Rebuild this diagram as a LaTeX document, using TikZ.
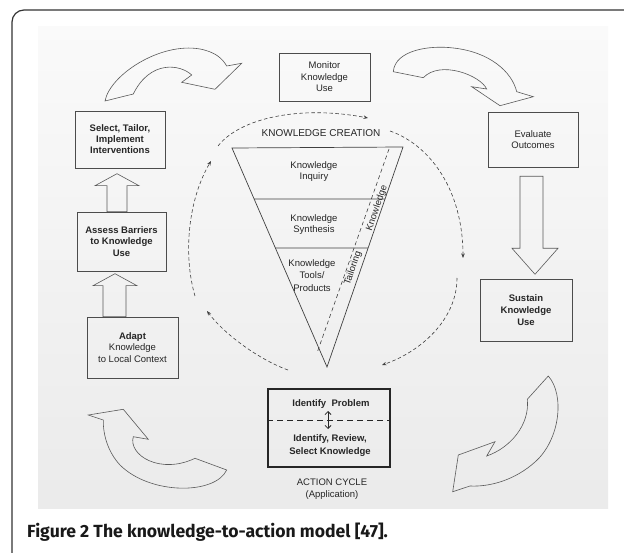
\documentclass[tikz,border=0pt]{standalone}
\usepackage{fontspec}
\setmainfont{Liberation Sans}
\newfontfamily\capfont{Fira Sans}
\usetikzlibrary{arrows.meta,calc}
\begin{document}
\begin{tikzpicture}[x=1pt,y=-1pt,
  txt/.style={font=\fontsize{9.5}{11.5}\selectfont},
  box/.style={draw=black!70,line width=0.6pt,align=center,inner sep=0pt,text=black!85,txt},
  lbl/.style={align=center,inner sep=0pt,text=black!85,txt},
  blk/.style={draw=black!65,line width=0.6pt,line join=miter},
  fun/.style={draw=black!75,line width=0.7pt},
  circ/.style={draw=black!75,line width=0.6pt,dash pattern=on 3.5pt off 2.5pt,-{Stealth[length=4.5pt,width=3.5pt]}}
]
\useasboundingbox (0,0) rectangle (624,553);
% photo background
\shade[top color=gray!4,bottom color=gray!16] (38,27) rectangle (608,508);
% frame
\draw[line width=1.2pt,black!80,rounded corners=12pt] (12,553) -- (12,10) -- (624,10);

% boxes
\node[box,minimum width=91pt,minimum height=48pt] (monitor) at (324.5,77) {Monitor\\Knowledge\\Use};
\node[box,minimum width=90pt,minimum height=57pt,font=\fontsize{9.5}{11}\selectfont\bfseries] (select) at (120,139.5) {Select, Tailor,\\Implement\\Interventions};
\node[box,minimum width=90pt,minimum height=55pt] (evaluate) at (533,139.5) {Evaluate\\Outcomes};
\node[box,minimum width=89pt,minimum height=59pt,font=\fontsize{9.5}{11.5}\selectfont\bfseries] (assess) at (121.5,241.5) {Assess Barriers\\to Knowledge\\Use};
\node[box,minimum width=91pt,minimum height=61pt] (adapt) at (132.5,347.5) {\textbf{Adapt}\\Knowledge\\to Local Context};
\node[box,minimum width=92pt,minimum height=62pt,font=\fontsize{9.5}{12}\selectfont\bfseries] (sustain) at (526,310) {Sustain\\Knowledge\\Use};
\node[draw=black!85,line width=1.1pt,minimum width=122pt,minimum height=78pt,inner sep=0pt] (action) at (329,428) {};
\node[lbl,font=\fontsize{9.5}{11.5}\selectfont\bfseries] (ip) at (331,404) {Identify\ \ Problem};
\node[lbl,font=\fontsize{9.5}{12.5}\selectfont\bfseries] (irs) at (330,445.5) {Identify, Review,\\Select Knowledge};
\draw[black!85,line width=1pt,dash pattern=on 6pt off 4pt] ($(action.west)+(0,-8)$) -- ($(action.east)+(0,-8)$);
\draw[black!85,line width=0.8pt,{Straight Barb[length=3pt,width=6pt]}-{Straight Barb[length=3pt,width=6pt]}] ($(action.center)+(-1,-17)$) -- ($(action.center)+(-1,1)$);
\node[lbl,font=\fontsize{9.5}{12}\selectfont] (ac) at (332,489) {ACTION CYCLE\\(Application)};

% straight block arrows
\draw[blk] ($(evaluate.south)+(-13,9)$) -- ++(23,0) -- ++(0,72) -- ++(15,0) -- ++(-23,26) -- ++(-23,-26) -- ++(8,0) -- cycle;
\draw[blk] ($(assess.north)+(-14.5,0)$) -- ++(0,-26) -- ++(-12,0) -- ++(22,-12) -- ++(22,12) -- ++(-12,0) -- ++(0,26) -- cycle;
\draw[blk] ($(adapt.north)+(-29.5,0)$) -- ++(0,-31) -- ++(-10,0) -- ++(22,-12) -- ++(22,12) -- ++(-11,0) -- ++(0,31) -- cycle;

% curved block arrows
\draw[blk] (105,101) .. controls (110,75) and (160,42) .. (200,49) .. controls (215,52) and (222,58) .. (226.7,66) -- (241.7,63.3) -- (215,89.3) -- (181.7,82.3) -- (191.7,75) .. controls (180,64) and (150,60) .. (133.3,94) -- cycle;
\draw[blk] (393.3,71.7) .. controls (395,50) and (430,45) .. (453.3,48) .. controls (490,52) and (512,72) .. (516.7,91.7) -- (533.3,96.7) -- (500,105.7) -- (471.7,86.7) -- (486.7,89) .. controls (480,75) and (440,60) .. (423.3,77.7) -- cycle;
\draw[blk] (88.3,415) -- (123.3,409.3) -- (148.3,439.3) -- (133.3,436.7) .. controls (128,455) and (160,475) .. (195,458.3) -- (226.7,470) .. controls (215,495) and (150,495) .. (120,465) .. controls (108,452) and (103,435) .. (103.3,420) -- cycle;
\draw[blk] (548.3,376) .. controls (565,395) and (560,440) .. (535,462) .. controls (515,480) and (490,487) .. (470,486) -- (452.7,491.7) -- (458.3,455) -- (495,441.7) -- (486.7,456) .. controls (510,448) and (530,425) .. (527.3,399.3) -- cycle;

% funnel
\coordinate (ftl) at (232,148);
\coordinate (ftr) at (403,147);
\coordinate (fap) at (327,367);
\draw[fun] (ftl) -- (ftr) -- (fap) -- cycle;
\draw[fun] ($(ftl)!0.233!(fap)$) -- ($(ftr)!0.236!(fap)$);
\draw[fun] ($(ftl)!0.457!(fap)$) -- ($(ftr)!0.459!(fap)$);
\coordinate (dtop) at (389,149);
\coordinate (dbot) at (317,353);
\draw[black!75,line width=0.6pt,dash pattern=on 4pt off 3pt] (dtop) -- (dbot);
\node[lbl,font=\fontsize{10}{12}\selectfont] (kc) at (321,133) {KNOWLEDGE CREATION};
\node[lbl] (ki) at (314,171.5) {Knowledge\\Inquiry};
\node[lbl] (ks) at (314,224.5) {Knowledge\\Synthesis};
\node[lbl,font=\fontsize{9.5}{12.5}\selectfont] (kt) at (312,275.5) {Knowledge\\Tools/\\Products};
\node[lbl,rotate=71] (rk) at (377,208) {Knowledge};
\node[lbl,rotate=71] (rt) at (353,268) {Tailoring};

% dashed cycle arrows
\coordinate (a1s) at (218,146); \coordinate (a1e) at (368,118);
\coordinate (a2s) at (390,131); \coordinate (a2e) at (463,258);
\coordinate (a3s) at (457,278); \coordinate (a3e) at (382,365);
\coordinate (a4s) at (288,370); \coordinate (a4e) at (207,311);
\coordinate (a5s) at (195,296); \coordinate (a5e) at (211,161);
\draw[circ] (a1s) .. controls (240,118) and (300,105) .. (a1e);
\draw[circ] (a2s) .. controls (430,145) and (463,190) .. (a2e);
\draw[circ] (a3s) .. controls (457,320) and (420,352) .. (a3e);
\draw[circ] (a4s) .. controls (260,360) and (225,335) .. (a4e);
\draw[circ] (a5s) .. controls (183,255) and (188,200) .. (a5e);

% caption
\node[anchor=base west,inner sep=0pt,text=black!90,font=\capfont\fontsize{17.6}{21}\selectfont\bfseries] (cap) at (27,537) {Figure 2 The knowledge-to-action model [47].};
\end{tikzpicture}
\end{document}
